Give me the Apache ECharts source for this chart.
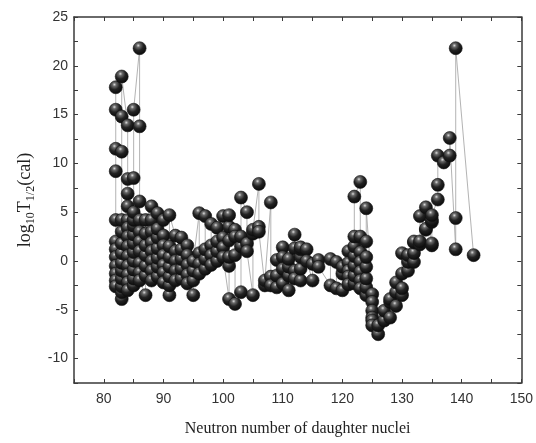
<!DOCTYPE html>
<html>
<head>
<meta charset="utf-8">
<script src="https://cdn.jsdelivr.net/npm/echarts@6/dist/echarts.min.js"></script>
<style>
html,body{margin:0;padding:0;background:#fff;}
#chart{width:536px;height:443px;}
</style>
</head>
<body>
<div id="chart"></div>
<script>
// Neutron numbers (x) and the log10 T1/2 values at each, in drawing order
const neutronNumbers = [82,83,84,85,86,87,88,89,90,91,92,93,94,95,96,97,98,99,100,101,102,103,104,105,106,107,108,109,110,111,112,113,114,115,116,118,119,120,121,122,123,124,125,126,127,128,129,130,131,132,133,134,135,136,137,138,139,142];
const halfLifeValues = [
  [17.8,15.5,11.5,9.2,4.2,2.0,1.2,0.4,-0.5,-1.3,-2.0,-2.6],
  [-3.9,-3.2,-2.6,-1.8,-1.0,-0.2,0.8,1.8,3.0,4.2,11.2,14.8,18.9],
  [13.9,8.4,6.9,5.6,4.2,3.4,2.5,1.5,0.5,-0.5,-1.4,-2.2,-3.0],
  [-2.5,-1.8,-0.9,0.0,0.9,1.8,2.7,3.6,4.2,5.0,8.5,15.5],
  [21.8,13.8,6.1,4.2,3.0,2.0,1.0,-0.2,-1.2,-2.0],
  [-3.5,-1.5,-0.5,0.6,1.6,2.8,4.2],
  [5.6,4.2,3.0,1.9,1.0,0.0,-1.0,-2.0],
  [-1.6,-0.6,0.3,1.3,2.4,3.3,4.9],
  [4.2,2.6,1.6,0.6,-0.4,-1.2,-2.2],
  [-3.5,-2.5,-1.6,-0.6,0.4,1.5,4.7],
  [2.6,1.0,0.0,-1.0,-2.0],
  [-1.8,-0.8,0.2,1.2,2.4],
  [1.6,0.6,-0.4,-1.4,-2.3],
  [-3.5,-2.0,-1.0,0.0],
  [4.9,0.8,-0.3,-1.3],
  [-0.8,0.2,1.2,4.6],
  [3.8,1.6,0.6,-0.4],
  [0.0,1.0,2.0,3.4],
  [4.6,2.4,1.4,0.4],
  [-3.9,-0.5,0.4,2.1,3.5,4.7],
  [3.2,2.5,0.6,-4.4],
  [-3.2,1.5,2.5,6.5],
  [5.0,1.8,1.0],
  [-3.5,2.8,3.2],
  [7.9,3.5,3.0],
  [-2.5,-2.0],
  [6.0,-1.6,-2.5],
  [-2.7,-1.5,0.1],
  [1.4,0.4,-0.8,-2.3],
  [-3.0,-1.5,-0.6,0.2],
  [2.7,1.3,-1.0,-1.8],
  [-2.0,-0.8,0.4,1.2,1.4],
  [1.2,0.0],
  [-2.0,-0.3],
  [0.1,-0.6],
  [-2.5,0.2],
  [-0.1,-2.8],
  [-3.0,-1.3,-0.6],
  [1.0,-0.2,-1.0,-1.6,-2.4],
  [-2.3,-1.5,-0.5,0.5,1.5,2.5,6.6],
  [8.1,2.5,0.9,-0.1,-1.1,-2.0,-2.8],
  [-3.5,-2.7,-1.8,-0.6,0.4,2.0,5.4],
  [-3.4,-4.2,-5.1,-5.8,-6.1,-6.6],
  [-7.5,-6.6],
  [-6.1,-5.1],
  [-5.8,-4.2,-3.9],
  [-4.6,-3.2,-2.2],
  [-3.5,-2.8,-1.3,0.8],
  [-1.0,-0.1,0.6],
  [-0.1,0.8,1.9,2.0],
  [1.7,2.0,4.6],
  [3.2,3.3,5.5],
  [1.6,1.8,4.0,4.2,4.7],
  [6.3,7.8,10.8],
  [10.1],
  [10.8,12.6],
  [1.2,4.4,21.8],
  [0.6]
];
const xTickLabels = [80,90,100,110,120,130,140,150];
const yTickLabels = [-10,-5,0,5,10,15,20,25];

const points = [];
neutronNumbers.forEach((n, i) => {
  halfLifeValues[i].forEach(v => points.push([n, v]));
});

const axisColor = '#3a3a3a';
const labelStyle = {color:'#333', fontFamily:'Liberation Sans, Arial, sans-serif', fontSize:14};

const chart = echarts.init(document.getElementById('chart'), null, {renderer:'canvas'});
chart.setOption({
  animation:false,
  backgroundColor:'#fff',
  grid:{left:74, right:13, top:17, bottom:60, containLabel:false},
  xAxis:[{
    type:'value', min:75, max:150, interval:5, position:'bottom',
    axisLine:{show:true, onZero:false, lineStyle:{color:axisColor, width:1.5}},
    axisTick:{show:true, inside:true, length:4, lineStyle:{color:axisColor, width:1}},
    axisLabel:Object.assign({margin:9, formatter:v => xTickLabels.includes(v) ? String(v) : ''}, labelStyle),
    splitLine:{show:false},
    name:'Neutron number of daughter nuclei', nameLocation:'middle', nameGap:38,
    nameTextStyle:{fontFamily:'Liberation Serif, Times New Roman, serif', fontSize:16, color:'#222'}
  },{
    type:'value', min:75, max:150, interval:5, position:'top',
    axisLine:{show:true, onZero:false, lineStyle:{color:axisColor, width:1.5}},
    axisTick:{show:true, inside:true, length:4, lineStyle:{color:axisColor, width:1}},
    axisLabel:{show:false}, splitLine:{show:false}
  }],
  yAxis:[{
    type:'value', min:-12.5, max:25, interval:2.5, position:'left',
    axisLine:{show:true, onZero:false, lineStyle:{color:axisColor, width:1.5}},
    axisTick:{show:true, inside:true, length:4, lineStyle:{color:axisColor, width:1}},
    axisLabel:Object.assign({margin:6, formatter:v => yTickLabels.includes(v) ? String(v) : ''}, labelStyle),
    splitLine:{show:false},
    name:'{a|log}{s|10}{a|T}{s|1/2}{a|(cal)}', nameLocation:'middle', nameGap:40, nameRotate:90,
    nameTextStyle:{
      color:'#222',
      rich:{
        a:{fontFamily:'Liberation Serif, Times New Roman, serif', fontSize:18, color:'#222', lineHeight:20, verticalAlign:'bottom'},
        s:{fontFamily:'Liberation Serif, Times New Roman, serif', fontSize:12, color:'#222', lineHeight:12, verticalAlign:'bottom', padding:[0,0,-3,0]}
      }
    }
  },{
    type:'value', min:-12.5, max:25, interval:2.5, position:'right',
    axisLine:{show:true, onZero:false, lineStyle:{color:axisColor, width:1.5}},
    axisTick:{show:true, inside:true, length:4, lineStyle:{color:axisColor, width:1}},
    axisLabel:{show:false}, splitLine:{show:false}
  }],
  series:[{
    type:'line',
    data:points,
    xAxisIndex:0, yAxisIndex:0,
    symbol:'circle', symbolSize:13,
    showAllSymbol:true,
    lineStyle:{color:'#a0a0a0', width:0.8},
    itemStyle:{
      color:{type:'radial', x:0.4, y:0.3, r:0.75, colorStops:[
        {offset:0, color:'#dcdcdc'},
        {offset:0.18, color:'#6a6a6a'},
        {offset:0.5, color:'#222'},
        {offset:1, color:'#050505'}
      ]},
      borderColor:'#111', borderWidth:0.6
    },
    emphasis:{disabled:true}
  }]
});
</script>
</body>
</html>
